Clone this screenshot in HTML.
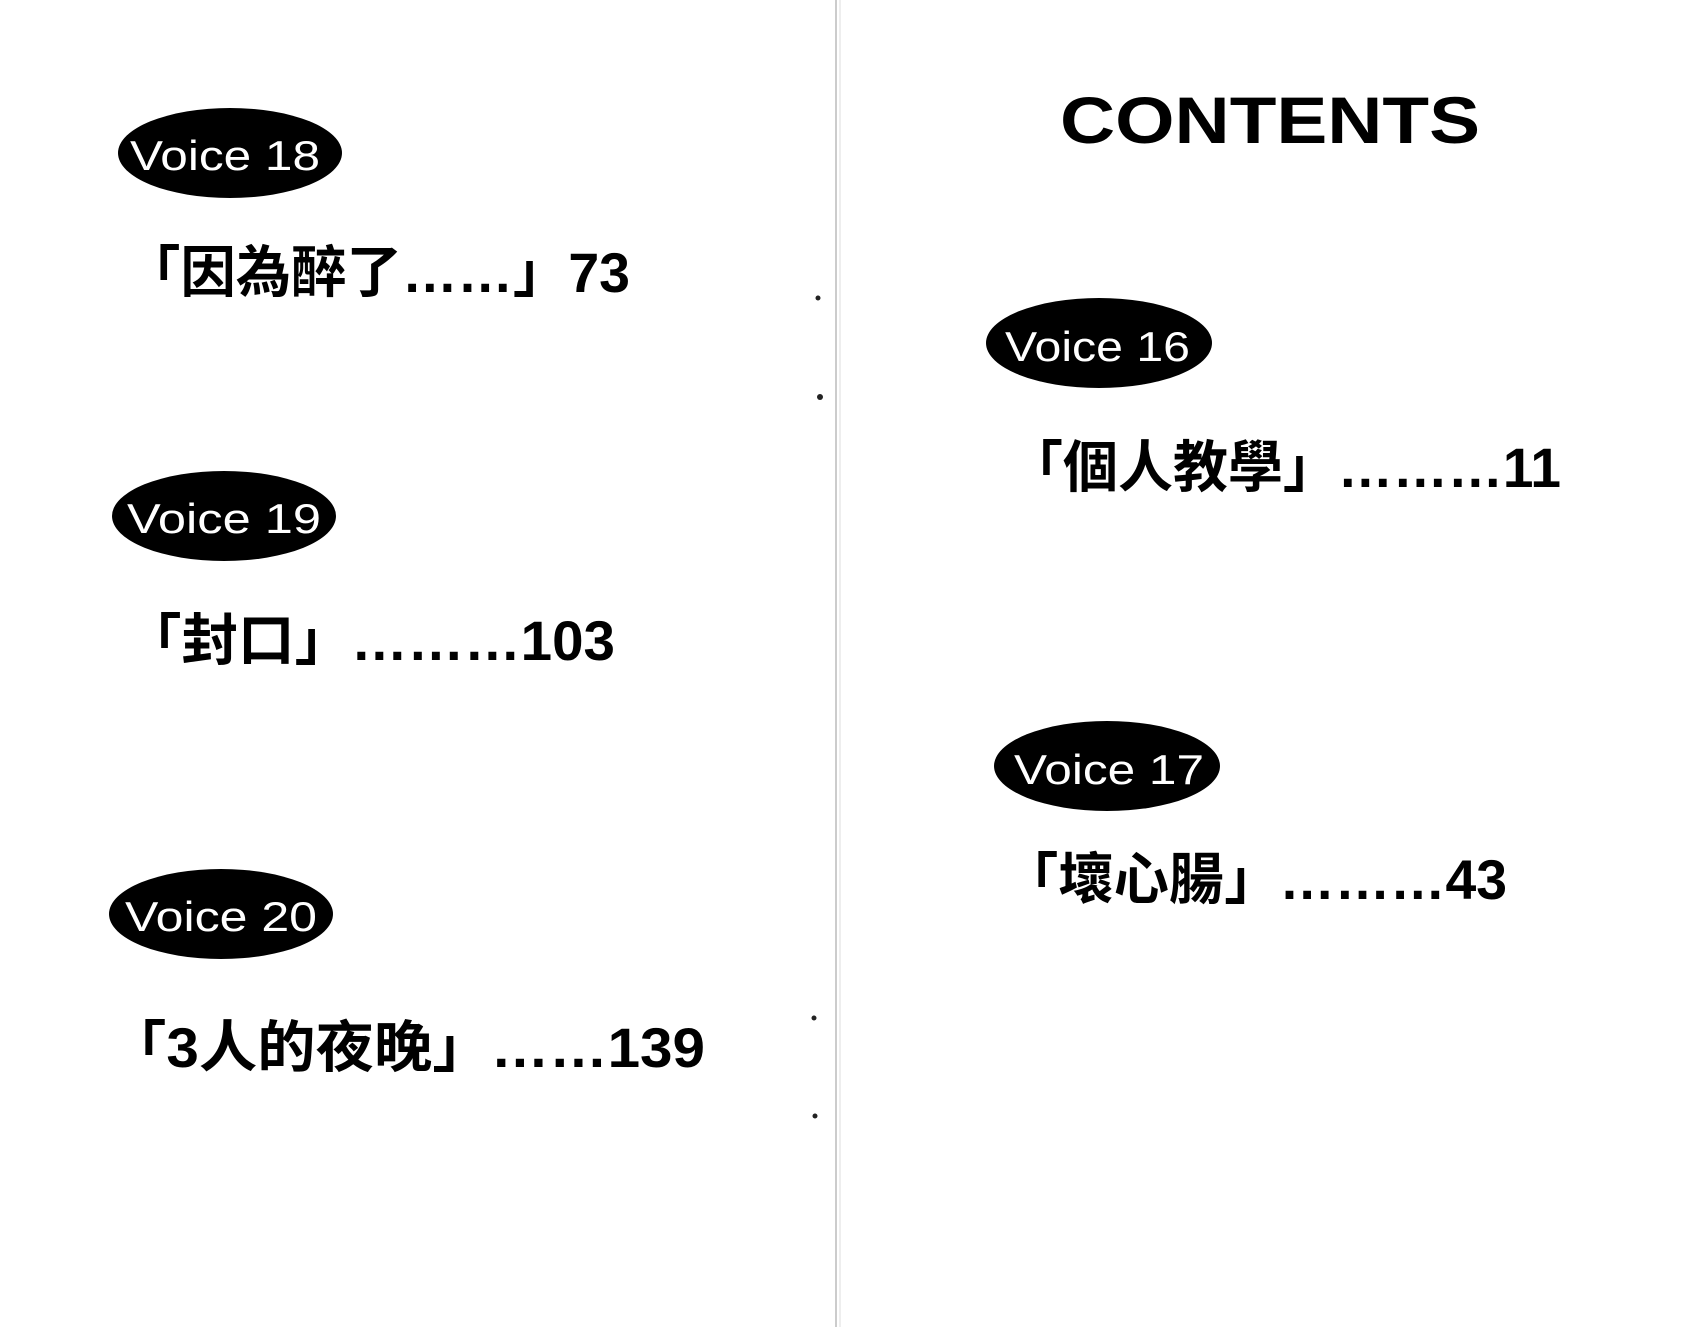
<!DOCTYPE html>
<html><head><meta charset="utf-8"><style>
html,body{margin:0;padding:0;background:#fff;}
svg{display:block}
</style></head><body>
<svg width="1700" height="1327" viewBox="0 0 1700 1327" xmlns="http://www.w3.org/2000/svg">
<rect width="1700" height="1327" fill="#fff"/>
<line x1="836" y1="0" x2="836" y2="1327" stroke="#ccc" stroke-width="2"/>
<line x1="840" y1="0" x2="840" y2="1327" stroke="#eee" stroke-width="2"/>
<circle cx="818" cy="298" r="2.5" fill="#222"/>
<circle cx="820" cy="397" r="3" fill="#222"/>
<circle cx="814" cy="1018" r="2.5" fill="#222"/>
<circle cx="815" cy="1116" r="2.5" fill="#222"/>
<g font-family="'Liberation Sans','Noto Sans CJK TC',sans-serif" font-weight="bold">
<text x="1060" y="143" font-size="66" textLength="420" lengthAdjust="spacingAndGlyphs" fill="#000">CONTENTS</text>

<ellipse cx="230" cy="153" rx="112" ry="45" fill="#000"/>
<text x="130" y="170" font-size="42" fill="#fff" font-weight="normal" textLength="190" lengthAdjust="spacingAndGlyphs">Voice 18</text>
<text x="125" y="292" font-size="56" textLength="505" lengthAdjust="spacingAndGlyphs">「因為醉了……」73</text>

<ellipse cx="224" cy="516" rx="112" ry="45" fill="#000"/>
<text x="127" y="533" font-size="42" fill="#fff" font-weight="normal" textLength="194" lengthAdjust="spacingAndGlyphs">Voice 19</text>
<text x="125" y="660" font-size="56" textLength="490" lengthAdjust="spacingAndGlyphs">「封口」………103</text>

<ellipse cx="221" cy="914" rx="112" ry="45" fill="#000"/>
<text x="125" y="931" font-size="42" fill="#fff" font-weight="normal" textLength="192" lengthAdjust="spacingAndGlyphs">Voice 20</text>
<text x="108" y="1067" font-size="56" textLength="597" lengthAdjust="spacingAndGlyphs">「3人的夜晚」……139</text>

<ellipse cx="1099" cy="343" rx="113" ry="45" fill="#000"/>
<text x="1005" y="361" font-size="42" fill="#fff" font-weight="normal" textLength="185" lengthAdjust="spacingAndGlyphs">Voice 16</text>
<text x="1008" y="487" font-size="56" textLength="553" lengthAdjust="spacingAndGlyphs">「個人教學」………11</text>

<ellipse cx="1107" cy="766" rx="113" ry="45" fill="#000"/>
<text x="1014" y="784" font-size="42" fill="#fff" font-weight="normal" textLength="190" lengthAdjust="spacingAndGlyphs">Voice 17</text>
<text x="1003" y="899" font-size="56" textLength="504" lengthAdjust="spacingAndGlyphs">「壞心腸」………43</text>
</g>
</svg>
</body></html>
